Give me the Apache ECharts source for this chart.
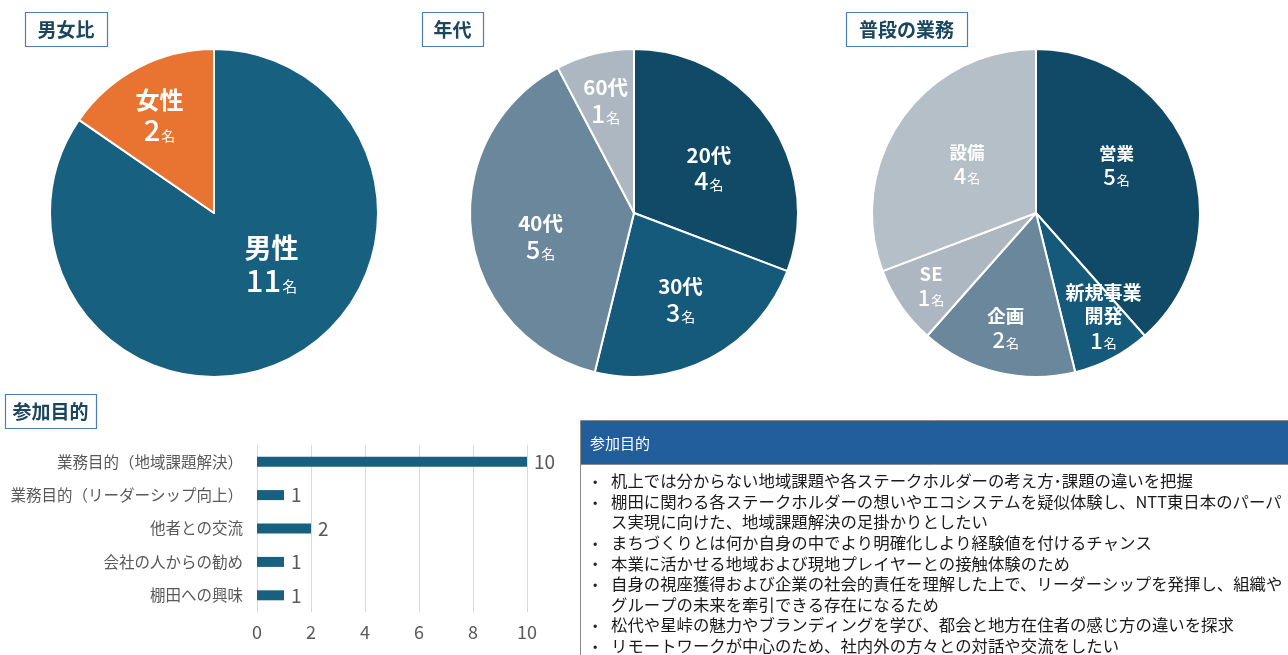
<!DOCTYPE html>
<html>
<head>
<meta charset="utf-8">
<script src="https://cdn.jsdelivr.net/npm/echarts@6/dist/echarts.min.js"></script>
<style>
html,body{margin:0;padding:0;background:#fff;}
#chart{width:1288px;height:655px;}
</style>
</head>
<body>
<div id="chart"></div>
<script>
// ---- data ----
const genderNames = ['男性', '女性'];
const genderValues = [11, 2];
const ageNames = ['20代', '30代', '40代', '60代'];
const ageValues = [4, 3, 5, 1];
const jobNames = ['営業', '新規事業\n開発', '企画', 'SE', '設備'];
const jobValues = [5, 1, 2, 1, 4];
const purposeCats = ['業務目的（地域課題解決）', '業務目的（リーダーシップ向上）', '他者との交流', '会社の人からの勧め', '棚田への興味'];
const purposeValues = [10, 1, 2, 1, 1];
const panelTitles = ['男女比', '年代', '普段の業務', '参加目的'];
const noteHeader = '参加目的';
const noteItems = [
  ['机上では分からない地域課題や各ステークホルダーの考え方･課題の違いを把握'],
  ['棚田に関わる各ステークホルダーの想いやエコシステムを疑似体験し、NTT東日本のパーパ', 'ス実現に向けた、地域課題解決の足掛かりとしたい'],
  ['まちづくりとは何か自身の中でより明確化しより経験値を付けるチャンス'],
  ['本業に活かせる地域および現地プレイヤーとの接触体験のため'],
  ['自身の視座獲得および企業の社会的責任を理解した上で、リーダーシップを発揮し、組織や', 'グループの未来を牽引できる存在になるため'],
  ['松代や星峠の魅力やブランディングを学び、都会と地方在住者の感じ方の違いを探求'],
  ['リモートワークが中心のため、社内外の方々との対話や交流をしたい']
];

// ---- styling ----
const FONT = '"Noto Sans CJK JP", "Noto Sans", sans-serif';
const darkBlue = '#114a66', midBlue = '#17607f', grayBlue = '#6a879c', lightGray = '#adb7c2', lighterGray = '#b5bfc8';

function labelFor(sz) {
  return {
    show: true,
    position: 'inside',
    color: '#fff',
    fontFamily: FONT,
    formatter: function (p) {
      const parts = p.name.split('\n').map(s => '{n|' + s + '}');
      return parts.join('\n') + '\n{v|' + p.value + '}{u|名}';
    },
    rich: {
      n: { fontSize: sz[0], lineHeight: sz[0] + 4, color: '#fff', fontFamily: FONT, fontWeight: 'bold' },
      v: { fontSize: sz[1], lineHeight: sz[1] + 3, color: '#fff', fontFamily: FONT, fontWeight: 500 },
      u: { fontSize: sz[2], lineHeight: sz[1] + 3, color: '#fff', fontFamily: FONT, verticalAlign: 'bottom', padding: [0, 0, 3, 1] }
    }
  };
}
const labelSizes = [
  [[27, 31, 15], [24, 29, 14]],
  [[20.5, 25, 14], [20.5, 25, 14], [20.5, 25, 14], [20.5, 25, 14]],
  [[17.5, 22, 13], [19, 22, 13], [18.5, 22, 13], [18.5, 22, 13], [17.5, 22, 13]]
];
const offsets = [
  [[18, -24], [-15, -22]],
  [[5, 4], [7, 12], [-9, 14], [-8, -29]],
  [[1, -17], [28, 29], [-10, 33], [-35, 25], [1, 0]]
];
function layoutFor(si) {
  return function (params) {
    const o = offsets[si][params.dataIndex] || [0, 0];
    return { dx: o[0], dy: o[1] };
  };
}
function pieData(si, names, values) {
  return names.map((n, i) => ({ name: n, value: values[i], label: labelFor(labelSizes[si][i]) }));
}

// title boxes
const titleBoxes = [
  { x: 25, y: 12, w: 82, h: 34 },
  { x: 422, y: 12, w: 61, h: 34 },
  { x: 846, y: 12, w: 121, h: 34 },
  { x: 5, y: 394, w: 91, h: 34 }
];
const graphics = [];
titleBoxes.forEach((b, i) => {
  graphics.push({
    type: 'rect', shape: { x: b.x + 0.5, y: b.y + 0.5, width: b.w, height: b.h },
    style: { fill: '#fff', stroke: '#4a7ebb', lineWidth: 1.2 }, z: 10
  });
  graphics.push({
    type: 'text', x: b.x + b.w / 2, y: b.y + b.h / 2 + 1, z: 11,
    style: { text: panelTitles[i], fill: '#1b4660', font: 'bold 19px ' + FONT, textAlign: 'center', textVerticalAlign: 'middle' }
  });
});
// note box
graphics.push({
  type: 'rect', shape: { x: 580.5, y: 420.5, width: 720, height: 260 },
  style: { fill: '#fff', stroke: '#8a8a8a', lineWidth: 1 }, z: 5
});
graphics.push({
  type: 'rect', shape: { x: 581, y: 421, width: 720, height: 43 },
  style: { fill: '#215e9b' }, z: 6
});
graphics.push({
  type: 'line', shape: { x1: 581, y1: 464.5, x2: 1288, y2: 464.5 },
  style: { stroke: '#8a8a8a', lineWidth: 1 }, z: 6
});
graphics.push({
  type: 'text', x: 590, y: 443, z: 7,
  style: { text: noteHeader, fill: '#fff', font: '15px ' + FONT, textVerticalAlign: 'middle' }
});
let lineIdx = 0;
const lineStep = 20.6, firstY = 481;
noteItems.forEach(item => {
  item.forEach((ln, k) => {
    const y = firstY + lineIdx * lineStep;
    if (k === 0) {
      graphics.push({ type: 'text', x: 593, y: y, z: 7,
        style: { text: '•', fill: '#222', font: '13px ' + FONT, textVerticalAlign: 'middle' } });
    }
    graphics.push({ type: 'text', x: 611, y: y, z: 7,
      style: { text: ln, fill: '#1a1a1a', font: '16.4px ' + FONT, textVerticalAlign: 'middle' } });
    lineIdx++;
  });
});

const option = {
  animation: false,
  backgroundColor: '#fff',
  textStyle: { fontFamily: FONT },
  graphic: graphics,
  grid: { left: 257, right: 761, top: 445, bottom: 43, containLabel: false },
  xAxis: {
    type: 'value', min: 0, max: 10, interval: 2,
    axisLine: { show: false }, axisTick: { show: false },
    splitLine: { lineStyle: { color: '#d9d9d9', width: 1 } },
    axisLabel: { color: '#595959', fontSize: 18, margin: 11, fontFamily: FONT }
  },
  yAxis: {
    type: 'category', data: purposeCats, inverse: true,
    axisLine: { show: true, lineStyle: { color: '#d9d9d9' } }, axisTick: { show: false },
    axisLabel: { color: '#595959', fontSize: 15.5, margin: 14, fontFamily: FONT }
  },
  series: [
    {
      type: 'pie', center: [214, 213], radius: [0, 164], startAngle: 90, clockwise: true,
      data: pieData(0, genderNames, genderValues),
      color: [midBlue, '#e97432'],
      itemStyle: { borderColor: '#fff', borderWidth: 2 },
      label: { show: true, position: 'inside' }, labelLine: { show: false },
      labelLayout: layoutFor(0), emphasis: { disabled: true }, silent: true
    },
    {
      type: 'pie', center: [634, 213], radius: [0, 164], startAngle: 90, clockwise: true,
      data: pieData(1, ageNames, ageValues),
      color: [darkBlue, '#155a7a', grayBlue, lightGray],
      itemStyle: { borderColor: '#fff', borderWidth: 2 },
      label: { show: true, position: 'inside' }, labelLine: { show: false },
      labelLayout: layoutFor(1), emphasis: { disabled: true }, silent: true
    },
    {
      type: 'pie', center: [1036, 213], radius: [0, 164], startAngle: 90, clockwise: true,
      data: pieData(2, jobNames, jobValues),
      color: [darkBlue, '#155a7a', grayBlue, lightGray, lighterGray],
      itemStyle: { borderColor: '#fff', borderWidth: 2 },
      label: { show: true, position: 'inside' }, labelLine: { show: false },
      labelLayout: layoutFor(2), emphasis: { disabled: true }, silent: true
    },
    {
      type: 'bar', data: purposeValues, barWidth: 10,
      itemStyle: { color: midBlue },
      label: { show: true, position: 'right', distance: 7, color: '#595959', fontSize: 19, fontFamily: FONT },
      silent: true
    }
  ]
};
const chart = echarts.init(document.getElementById('chart'), null, { renderer: 'canvas' });
chart.setOption(option);
</script>
</body>
</html>
